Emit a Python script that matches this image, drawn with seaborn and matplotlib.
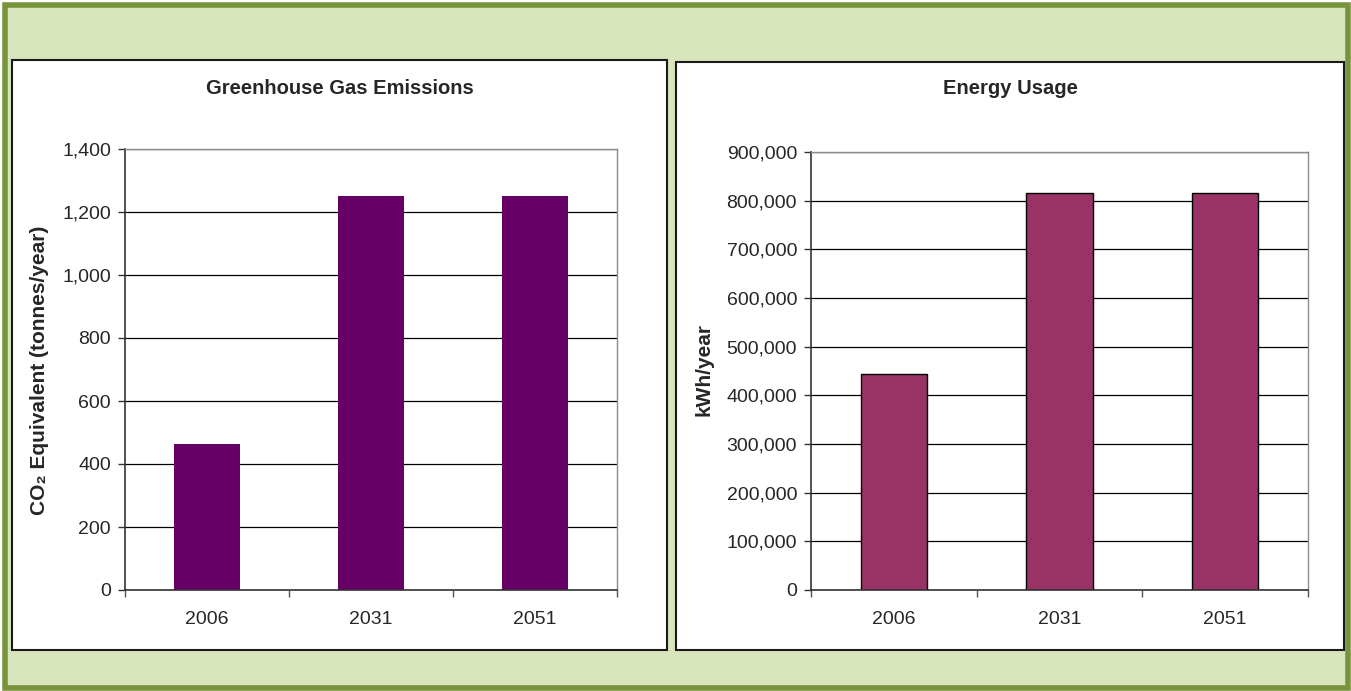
import matplotlib
matplotlib.use("Agg")
import matplotlib.pyplot as plt
import matplotlib.patches as mpatches
import matplotlib.ticker as mticker
import pandas as pd
import seaborn as sns

# chart values
years = ["2006", "2031", "2051"]
ghg_emissions = [465, 1250, 1250]          # tonnes CO2 eq / year
energy_usage = [444000, 815000, 815000]    # kWh / year

ghg_ticks = [0, 200, 400, 600, 800, 1000, 1200, 1400]
energy_ticks = [0, 100000, 200000, 300000, 400000, 500000, 600000, 700000, 800000, 900000]

sns.set_style("white")
plt.rcParams['font.family'] = ['Liberation Sans', 'DejaVu Sans']

W, H = 1351, 691
fig = plt.figure(figsize=(W / 100, H / 100), dpi=100)
fig.patch.set_facecolor("white")


def px_rect(x0, y0, x1, y1, **kw):
    # rectangle in pixel coords (top-left origin) -> figure fraction
    return mpatches.Rectangle((x0 / W, 1 - y1 / H), (x1 - x0) / W, (y1 - y0) / H,
                              transform=fig.transFigure, figure=fig, **kw)


# green frame and the two white chart panels
fig.patches.append(px_rect(5, 5, 1348, 688, facecolor="#d8e4bc", edgecolor="#77933c", linewidth=4))
fig.patches.append(px_rect(12, 60, 667, 650, facecolor="white", edgecolor="#1a1a1a", linewidth=1.5))
fig.patches.append(px_rect(676, 62, 1344, 650, facecolor="white", edgecolor="#1a1a1a", linewidth=1.5))


def draw_panel(ax_rect, values, ticks, color, edge, title, title_x, ylabel, ylabel_x, fmt):
    ax = fig.add_axes(ax_rect)
    ax.set_zorder(5)
    df = pd.DataFrame({"year": years, "value": values})
    sns.barplot(data=df, x="year", y="value", color=color, width=0.4, saturation=1,
                edgecolor=edge, linewidth=1 if edge != "none" else 0, ax=ax)
    ax.set_facecolor("none")
    ax.set_ylim(ticks[0], ticks[-1])
    ax.set_xlim(-0.5, len(years) - 0.5)
    ax.set_yticks(ticks)
    ax.yaxis.set_major_formatter(mticker.FuncFormatter(fmt))
    ax.set_axisbelow(True)
    ax.yaxis.grid(True, color="black", linewidth=0.9)
    ax.xaxis.grid(False)
    for side in ["top", "right"]:
        ax.spines[side].set_visible(True)
        ax.spines[side].set_color("#8c8c8c")
        ax.spines[side].set_linewidth(1)
    for side in ["left", "bottom"]:
        ax.spines[side].set_color("#333333")
        ax.spines[side].set_linewidth(1.2)
    ax.tick_params(axis="y", which="major", direction="out", length=5, width=1,
                   color="#333333", left=True, labelsize=14, pad=5)
    ax.tick_params(axis="x", which="major", length=0, labelsize=14, pad=15)
    ax.set_xticks([i + 0.5 for i in range(-1, len(years))], minor=True)
    ax.tick_params(axis="x", which="minor", direction="out", length=5, width=1,
                   color="#555555", bottom=True)
    ax.set_xlabel("")
    ax.set_ylabel("")
    fig.text(title_x / W, 1 - 89 / H, title, ha="center", va="center",
             fontsize=14.5, fontweight="bold", zorder=6)
    fig.text(ylabel_x / W, 1 - 370 / H, ylabel, ha="center", va="center",
             rotation=90, fontsize=15, fontweight="bold", zorder=6)
    return ax


draw_panel([125 / W, 1 - 590 / H, 492 / W, 441 / H], ghg_emissions, ghg_ticks,
           "#660066", "none", "Greenhouse Gas Emissions", 340,
           "CO₂ Equivalent (tonnes/year)", 40, lambda v, p: f"{int(v):,}")

draw_panel([811 / W, 1 - 590 / H, 497 / W, 438 / H], energy_usage, energy_ticks,
           "#993366", "black", "Energy Usage", 1010,
           "kWh/year", 704, lambda v, p: f"{int(v):,}")

fig.savefig("out.png", dpi=100)
